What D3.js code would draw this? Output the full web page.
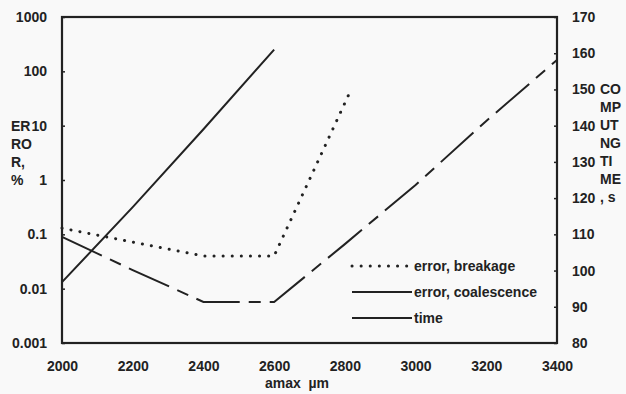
<!DOCTYPE html>
<html>
<head>
<meta charset="utf-8">
<script src="https://cdn.jsdelivr.net/npm/d3@7"></script>
<style>
  html, body { margin: 0; padding: 0; background: #f9f9f9; }
  svg { display: block; font-family: "Liberation Sans", Arial, sans-serif; font-weight: bold; }
</style>
</head>
<body>
<svg id="chart" width="626" height="394"></svg>
<script>
// ---- data ----
const xTicks = [2000, 2200, 2400, 2600, 2800, 3000, 3200, 3400];
const leftTicks = [0.001, 0.01, 0.1, 1, 10, 100, 1000];
const leftTickLabels = ["0.001", "0.01", "0.1", "1", "10", "100", "1000"];
const rightTicks = [80, 90, 100, 110, 120, 130, 140, 150, 160, 170];

const amaxBreakage = [2000, 2200, 2400, 2600, 2820];
const errorBreakage = [0.13, 0.072, 0.040, 0.040, 50];

const amaxCoalescence = [2000, 2200, 2400, 2600, 2800, 3000, 3200, 3400];
const errorCoalescence = [0.09, 0.022, 0.0057, 0.0057, 0.066, 0.81, 12.2, 162];

const amaxTime = [2000, 2200, 2400, 2600];
const computingTime = [96.8, 117.5, 139, 161];

const legendLabels = ["error, breakage", "error, coalescence", "time"];
const leftTitleLines = ["ER", "RO", "R,", "%"];
const rightTitleLines = ["CO", "MP", "UT", "NG", "TI", "ME", ", s"];
const xTitle = "amax  \u00b5m";

// ---- layout ----
const W = 626, H = 394;
const m = { left: 62, right: 69, top: 17, bottom: 51 };
const ink = "#222";
const svg = d3.select("#chart");

const x = d3.scaleLinear().domain([2000, 3400]).range([m.left, W - m.right]);
const yL = d3.scaleLog().domain([0.001, 1000]).range([H - m.bottom, m.top]);
const yR = d3.scaleLinear().domain([80, 170]).range([H - m.bottom, m.top]);

const fs = 14;

// left axis
const gL = svg.append("g").attr("transform", `translate(${m.left},0)`)
  .call(d3.axisLeft(yL).tickValues(leftTicks).tickFormat((d, i) => leftTickLabels[i]).tickSize(-3).tickPadding(15));
// right axis
const gR = svg.append("g").attr("transform", `translate(${W - m.right},0)`)
  .call(d3.axisRight(yR).tickValues(rightTicks).tickFormat(d3.format("d")).tickSize(-3).tickPadding(15));
// bottom axis
const gB = svg.append("g").attr("transform", `translate(0,${H - m.bottom})`)
  .call(d3.axisBottom(x).tickValues(xTicks).tickFormat(d3.format("d")).tickSize(0).tickPadding(18));

[gL, gR, gB].forEach(g => {
  g.select(".domain").remove();
  g.selectAll("line").attr("stroke", ink).attr("stroke-width", 1.5);
  g.selectAll("text").attr("fill", ink).attr("font-size", fs).attr("font-family", "Liberation Sans, Arial, sans-serif").attr("font-weight", "bold");
});

// frame
svg.append("rect")
  .attr("x", m.left).attr("y", m.top)
  .attr("width", W - m.left - m.right).attr("height", H - m.top - m.bottom)
  .attr("fill", "none").attr("stroke", ink).attr("stroke-width", 2.2);

// series
const lineL = d3.line().x(d => x(d[0])).y(d => yL(d[1]));
const lineR = d3.line().x(d => x(d[0])).y(d => yR(d[1]));

const styles = [
  { dash: "0.1,9", width: 3, cap: "round" },
  { dash: "44,9,12,9", width: 2, cap: "butt" },
  { dash: null, width: 2, cap: "butt" }
];

svg.append("path")
  .datum(amaxBreakage.map((a, i) => [a, errorBreakage[i]]))
  .attr("d", lineL).attr("fill", "none").attr("stroke", ink)
  .attr("stroke-width", styles[0].width).attr("stroke-dasharray", styles[0].dash).attr("stroke-linecap", styles[0].cap);

svg.append("path")
  .datum(amaxCoalescence.map((a, i) => [a, errorCoalescence[i]]))
  .attr("d", lineL).attr("fill", "none").attr("stroke", ink)
  .attr("stroke-width", styles[1].width).attr("stroke-dasharray", styles[1].dash);

svg.append("path")
  .datum(amaxTime.map((a, i) => [a, computingTime[i]]))
  .attr("d", lineR).attr("fill", "none").attr("stroke", ink)
  .attr("stroke-width", styles[2].width);

// legend
const lg = svg.append("g");
legendLabels.forEach((lab, i) => {
  const yy = 266 + i * 26;
  lg.append("line").attr("x1", 352).attr("x2", 412).attr("y1", yy).attr("y2", yy)
    .attr("stroke", ink).attr("stroke-width", styles[i].width)
    .attr("stroke-dasharray", i === 0 ? styles[0].dash : null)
    .attr("stroke-linecap", styles[i].cap);
  lg.append("text").attr("x", 414).attr("y", yy).attr("dy", "0.35em")
    .attr("font-size", fs).attr("fill", ink).text(lab);
});

// axis titles
leftTitleLines.forEach((t, i) => {
  svg.append("text").attr("x", 11).attr("y", yL(10) + i * 18).attr("dy", "0.35em")
    .attr("font-size", fs).attr("fill", ink).text(t);
});
rightTitleLines.forEach((t, i) => {
  svg.append("text").attr("x", 600).attr("y", yR(150) + i * 18).attr("dy", "0.35em")
    .attr("font-size", fs).attr("fill", ink).text(t);
});
svg.append("text").attr("x", 297).attr("y", 388).attr("text-anchor", "middle")
  .attr("font-size", fs).attr("fill", ink).style("white-space", "pre").text(xTitle);
</script>
</body>
</html>
